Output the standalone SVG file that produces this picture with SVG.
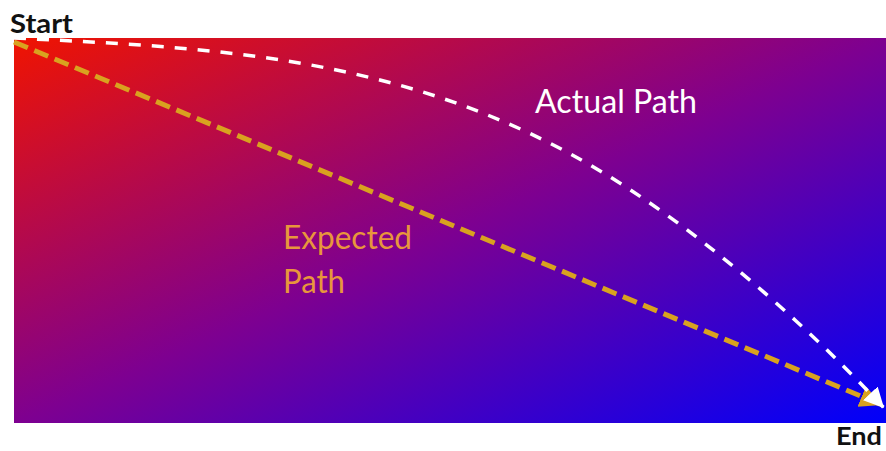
<svg xmlns="http://www.w3.org/2000/svg" width="886" height="451" viewBox="0 0 886 451">
  <defs>
    <linearGradient id="bg" x1="0" y1="0" x2="1" y2="1">
      <stop offset="0" stop-color="#f01400"/>
      <stop offset="0.5" stop-color="#7e0090"/>
      <stop offset="1" stop-color="#0000fa"/>
    </linearGradient>
    <marker id="arrGold" markerUnits="userSpaceOnUse" markerWidth="24" markerHeight="24" refX="22" refY="11" orient="auto" viewBox="0 0 24 24">
      <path d="M0,0 L22,11 L0,22 z" fill="#d9a21f"/>
    </marker>
    <marker id="arrWhite" markerUnits="userSpaceOnUse" markerWidth="22" markerHeight="22" refX="20" refY="10" orient="auto" viewBox="0 0 22 22">
      <path d="M0,0 L20,10 L0,20 z" fill="#ffffff"/>
    </marker>
  </defs>
  <style>
    .lbl { font-family: Lato, "Open Sans", "Liberation Sans", sans-serif; }
    .term { font-weight: bold; font-size: 26px; fill: #111111; }
    .path-lbl { font-size: 32px; }
    .gold { fill: none; stroke: #d9a21f; stroke-width: 5; stroke-dasharray: 15 7; }
    .white { fill: none; stroke: #ffffff; stroke-width: 3.5; stroke-dasharray: 12 11; }
  </style>
  <rect x="14" y="38" width="872" height="385" fill="url(#bg)"/>
  <g id="start">
    <text class="lbl term" x="10" y="33" textLength="63" lengthAdjust="spacingAndGlyphs">Start</text>
  </g>
  <g id="end">
    <text class="lbl term" x="836" y="445" font-size="24" style="font-size:24px" textLength="46" lengthAdjust="spacingAndGlyphs">End</text>
  </g>
  <g id="connectors">
    <path class="gold" d="M14,42 L882,405" marker-end="url(#arrGold)"/>
    <path class="white" d="M14,38 C210,48 406,54 602,172 C695,228 800,318 884,408" marker-end="url(#arrWhite)"/>
  </g>
  <g id="actual-label">
    <text class="lbl path-lbl" x="535" y="113" fill="#ffffff" textLength="162" lengthAdjust="spacingAndGlyphs">Actual Path</text>
  </g>
  <g id="expected-label">
    <text class="lbl path-lbl" x="283" y="249" fill="#e8963c" textLength="129" lengthAdjust="spacingAndGlyphs">Expected</text>
    <text class="lbl path-lbl" x="283" y="293" fill="#e8963c" textLength="62" lengthAdjust="spacingAndGlyphs">Path</text>
  </g>
</svg>
